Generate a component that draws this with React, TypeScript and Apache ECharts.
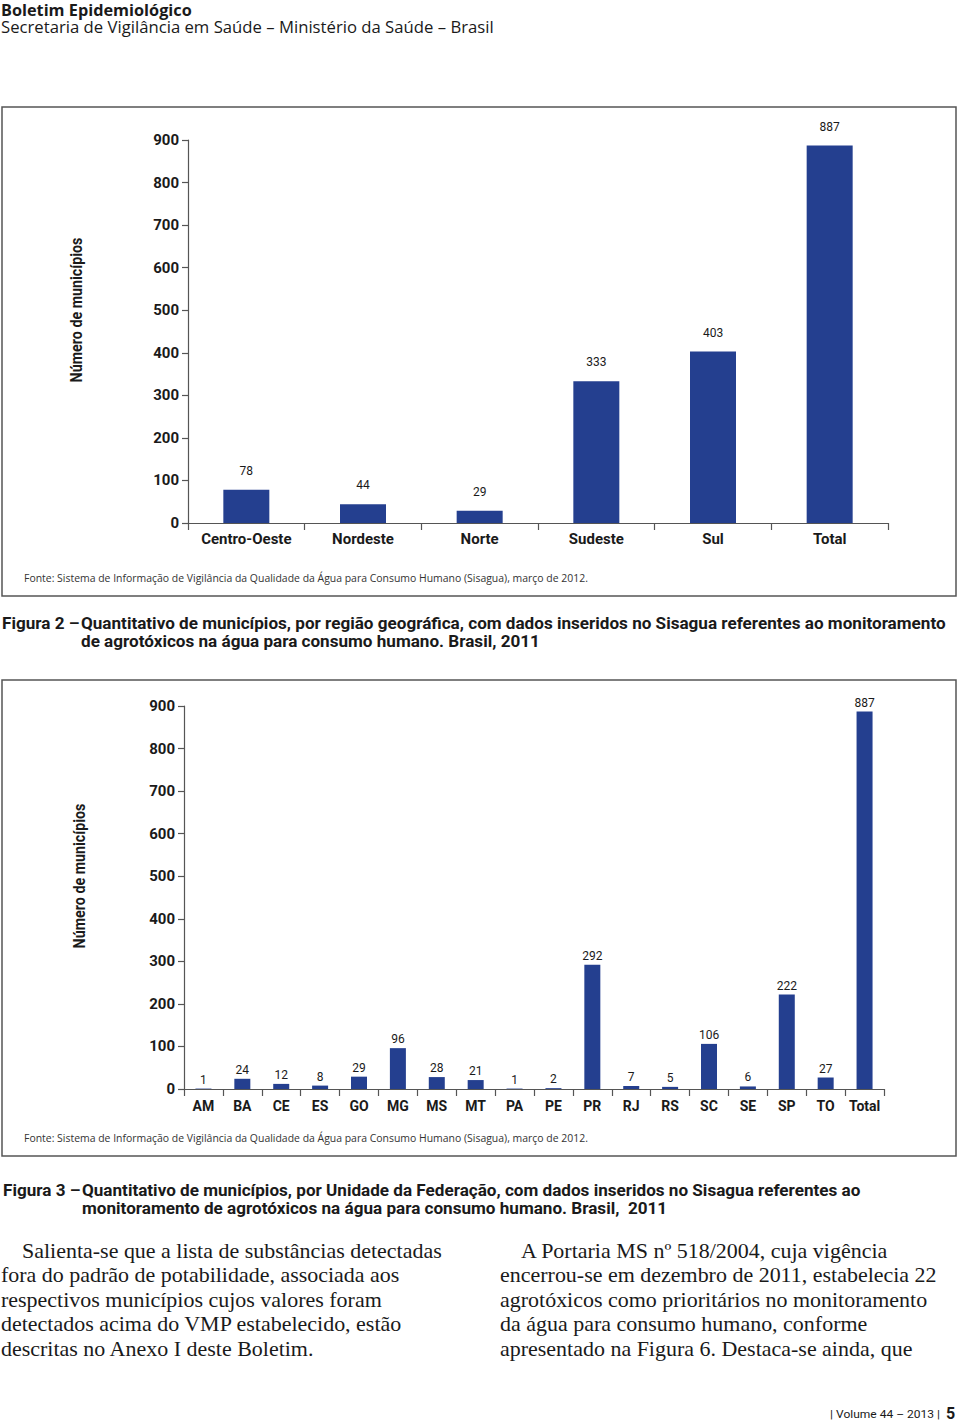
import React, { useEffect, useRef } from "react";
import * as echarts from "echarts";

const regionCategories = ["Centro-Oeste", "Nordeste", "Norte", "Sudeste", "Sul", "Total"];
const regionValues = [78, 44, 29, 333, 403, 887];

const ufCategories = ["AM", "BA", "CE", "ES", "GO", "MG", "MS", "MT", "PA", "PE", "PR", "RJ", "RS", "SC", "SE", "SP", "TO", "Total"];
const ufValues = [1, 24, 12, 8, 29, 96, 28, 21, 1, 2, 292, 7, 5, 106, 6, 222, 27, 887];

const yMin = 0;
const yMax = 900;
const yInterval = 100;

const headerTitle = "Boletim Epidemiológico";
const headerSub = "Secretaria de Vigilância em Saúde – Ministério da Saúde – Brasil";
const yAxisName = "Número de municípios";
const sourceText = "Fonte: Sistema de Informação de Vigilância da Qualidade da Água para Consumo Humano (Sisagua), março de 2012.";
const fig2Label = "Figura 2 –";
const fig2Lines = [
  "Quantitativo de municípios, por região geográfica, com dados inseridos no Sisagua referentes ao monitoramento",
  "de agrotóxicos na água para consumo humano. Brasil, 2011",
];
const fig3Label = "Figura 3 –";
const fig3Lines = [
  "Quantitativo de municípios, por Unidade da Federação, com dados inseridos no Sisagua referentes ao",
  "monitoramento de agrotóxicos na água para consumo humano. Brasil,  2011",
];
const leftColumn = [
  "Salienta-se que a lista de substâncias detectadas",
  "fora do padrão de potabilidade, associada aos",
  "respectivos municípios cujos valores foram",
  "detectados acima do VMP estabelecido, estão",
  "descritas no Anexo I deste Boletim.",
];
const rightColumn = [
  "A Portaria MS nº 518/2004, cuja vigência",
  "encerrou-se em dezembro de 2011, estabelecia 22",
  "agrotóxicos como prioritários no monitoramento",
  "da água para consumo humano, conforme",
  "apresentado na Figura 6. Destaca-se ainda, que",
];
const footerText = "| Volume 44 – 2013 |";
const footerPage = "5";

const COND = "Roboto, 'Liberation Sans', sans-serif";
const SANS = "'Open Sans', 'Noto Sans', sans-serif";
const SERIF = "'Liberation Serif', 'DejaVu Serif', serif";
const BAR = "#243f8f";
const AXIS = "#555555";
const INK = "#1a1a1a";

let measureCtx: CanvasRenderingContext2D | null = null;
function measure(text: string, size: number, weight: string, family: string) {
  if (!measureCtx) measureCtx = document.createElement("canvas").getContext("2d");
  if (!measureCtx) return text.length * size * 0.5;
  measureCtx.font = `${weight} ${size}px ${family}`;
  return measureCtx.measureText(text).width;
}
function fitScale(text: string, size: number, weight: string, family: string, target: number) {
  const w = measure(text, size, weight, family);
  return w > 0 ? target / w : 1;
}

function txt(text: string, x: number, y: number, opts: any = {}) {
  return {
    type: "text",
    x,
    y,
    rotation: opts.rotation || 0,
    scaleX: opts.scaleX || 1,
    style: {
      text,
      fill: opts.fill || INK,
      fontSize: opts.fontSize || 14,
      fontWeight: opts.fontWeight || "normal",
      fontFamily: opts.fontFamily || SANS,
      align: opts.align || "left",
      verticalAlign: "middle",
    },
  };
}

export default function App() {
  const ref = useRef<HTMLDivElement>(null);
  useEffect(() => {
    if (!ref.current) return;
    const chart = echarts.init(ref.current, undefined, { renderer: "svg" });

    const yAxisCommon = (gridIndex: number) => ({
      type: "value",
      gridIndex,
      min: yMin,
      max: yMax,
      interval: yInterval,
      axisLine: { show: true, lineStyle: { color: AXIS, width: 1.2 } },
      axisTick: { show: true, length: 6, lineStyle: { color: AXIS, width: 1.2 } },
      splitLine: { show: false },
      axisLabel: { color: INK, fontSize: 15, fontWeight: "bold", fontFamily: COND, margin: 9 },
    });
    const xAxisCommon = (gridIndex: number, data: string[], size: number, margin: number) => ({
      type: "category",
      gridIndex,
      data,
      boundaryGap: true,
      axisLine: { show: true, lineStyle: { color: AXIS, width: 1.2 } },
      axisTick: { show: true, length: 7, alignWithLabel: false, lineStyle: { color: AXIS, width: 1.2 } },
      axisLabel: { color: INK, fontSize: size, fontWeight: "bold", fontFamily: COND, margin, interval: 0 },
    });

    const capSize = 16;
    const capScale = fitScale(fig2Lines[0], capSize, "bold", COND, 866);
    const nameScale = fitScale(yAxisName, 16, "bold", COND, 145);
    const srcScale = fitScale(sourceText, 10.5, "normal", SANS, 564);
    const footScale = fitScale(footerText, 11, "normal", COND, 110);
    const titleScale = fitScale(headerTitle, 16, "bold", SANS, 191);
    const subScale = fitScale(headerSub, 16, "normal", SANS, 493);
    const bodyScale = fitScale(leftColumn[0], 21, "normal", SERIF, 420);

    const cap = (t: string, x: number, y: number) =>
      txt(t, x, y, { fontSize: capSize, fontWeight: "bold", fontFamily: COND, scaleX: capScale });

    const graphic: any[] = [
      { type: "rect", shape: { x: 2, y: 107, width: 954, height: 489 }, style: { fill: "none", stroke: AXIS, lineWidth: 1.5 } },
      { type: "rect", shape: { x: 2, y: 680, width: 954, height: 476 }, style: { fill: "none", stroke: AXIS, lineWidth: 1.5 } },
      txt(headerTitle, 1, 10, { fontSize: 16, fontWeight: "bold", scaleX: titleScale }),
      txt(headerSub, 1, 27, { fontSize: 16, scaleX: subScale }),
      txt(yAxisName, 77, 310, { fontSize: 16, fontWeight: "bold", fontFamily: COND, align: "center", rotation: Math.PI / 2, scaleX: nameScale }),
      txt(yAxisName, 80, 876, { fontSize: 16, fontWeight: "bold", fontFamily: COND, align: "center", rotation: Math.PI / 2, scaleX: nameScale }),
      txt(sourceText, 24, 578, { fontSize: 10.5, fill: "#333", scaleX: srcScale }),
      txt(sourceText, 24, 1138, { fontSize: 10.5, fill: "#333", scaleX: srcScale }),
      cap(fig2Label, 2, 624),
      cap(fig2Lines[0], 81, 624),
      cap(fig2Lines[1], 81, 642),
      cap(fig3Label, 3, 1191),
      cap(fig3Lines[0], 82, 1191),
      cap(fig3Lines[1], 82, 1209),
      txt(footerText, 940, 1414, { fontSize: 11, fontFamily: COND, align: "right", scaleX: footScale }),
      txt(footerPage, 946, 1413, { fontSize: 16, fontWeight: "bold", fontFamily: COND }),
    ];
    const lineYs = [1251, 1275.5, 1300, 1324.5, 1349];
    leftColumn.forEach((l, i) =>
      graphic.push(txt(l, i === 0 ? 22 : 1, lineYs[i], { fontSize: 21, fontFamily: SERIF, scaleX: bodyScale }))
    );
    rightColumn.forEach((l, i) =>
      graphic.push(txt(l, i === 0 ? 521 : 500, lineYs[i], { fontSize: 21, fontFamily: SERIF, scaleX: bodyScale }))
    );

    chart.setOption({
      animation: false,
      backgroundColor: "#ffffff",
      grid: [
        { left: 188, right: 72, top: 140, bottom: 1424 - 523, containLabel: false },
        { left: 184, right: 76, top: 706, bottom: 1424 - 1089, containLabel: false },
      ],
      xAxis: [xAxisCommon(0, regionCategories, 15, 8), xAxisCommon(1, ufCategories, 14, 10)],
      yAxis: [yAxisCommon(0), yAxisCommon(1)],
      series: [
        {
          type: "bar",
          xAxisIndex: 0,
          yAxisIndex: 0,
          data: regionValues,
          barWidth: 46,
          itemStyle: { color: BAR },
          label: { show: true, position: "top", distance: 13, color: INK, fontSize: 12, fontFamily: COND },
        },
        {
          type: "bar",
          xAxisIndex: 1,
          yAxisIndex: 1,
          data: ufValues,
          barWidth: 16,
          itemStyle: { color: BAR },
          label: { show: true, position: "top", distance: 3, color: INK, fontSize: 12, fontFamily: COND },
        },
      ],
      graphic,
    });
    return () => chart.dispose();
  }, []);
  return <div ref={ref} style={{ position: "absolute", left: 0, top: 0, width: 960, height: 1424, background: "#fff" }} />;
}
